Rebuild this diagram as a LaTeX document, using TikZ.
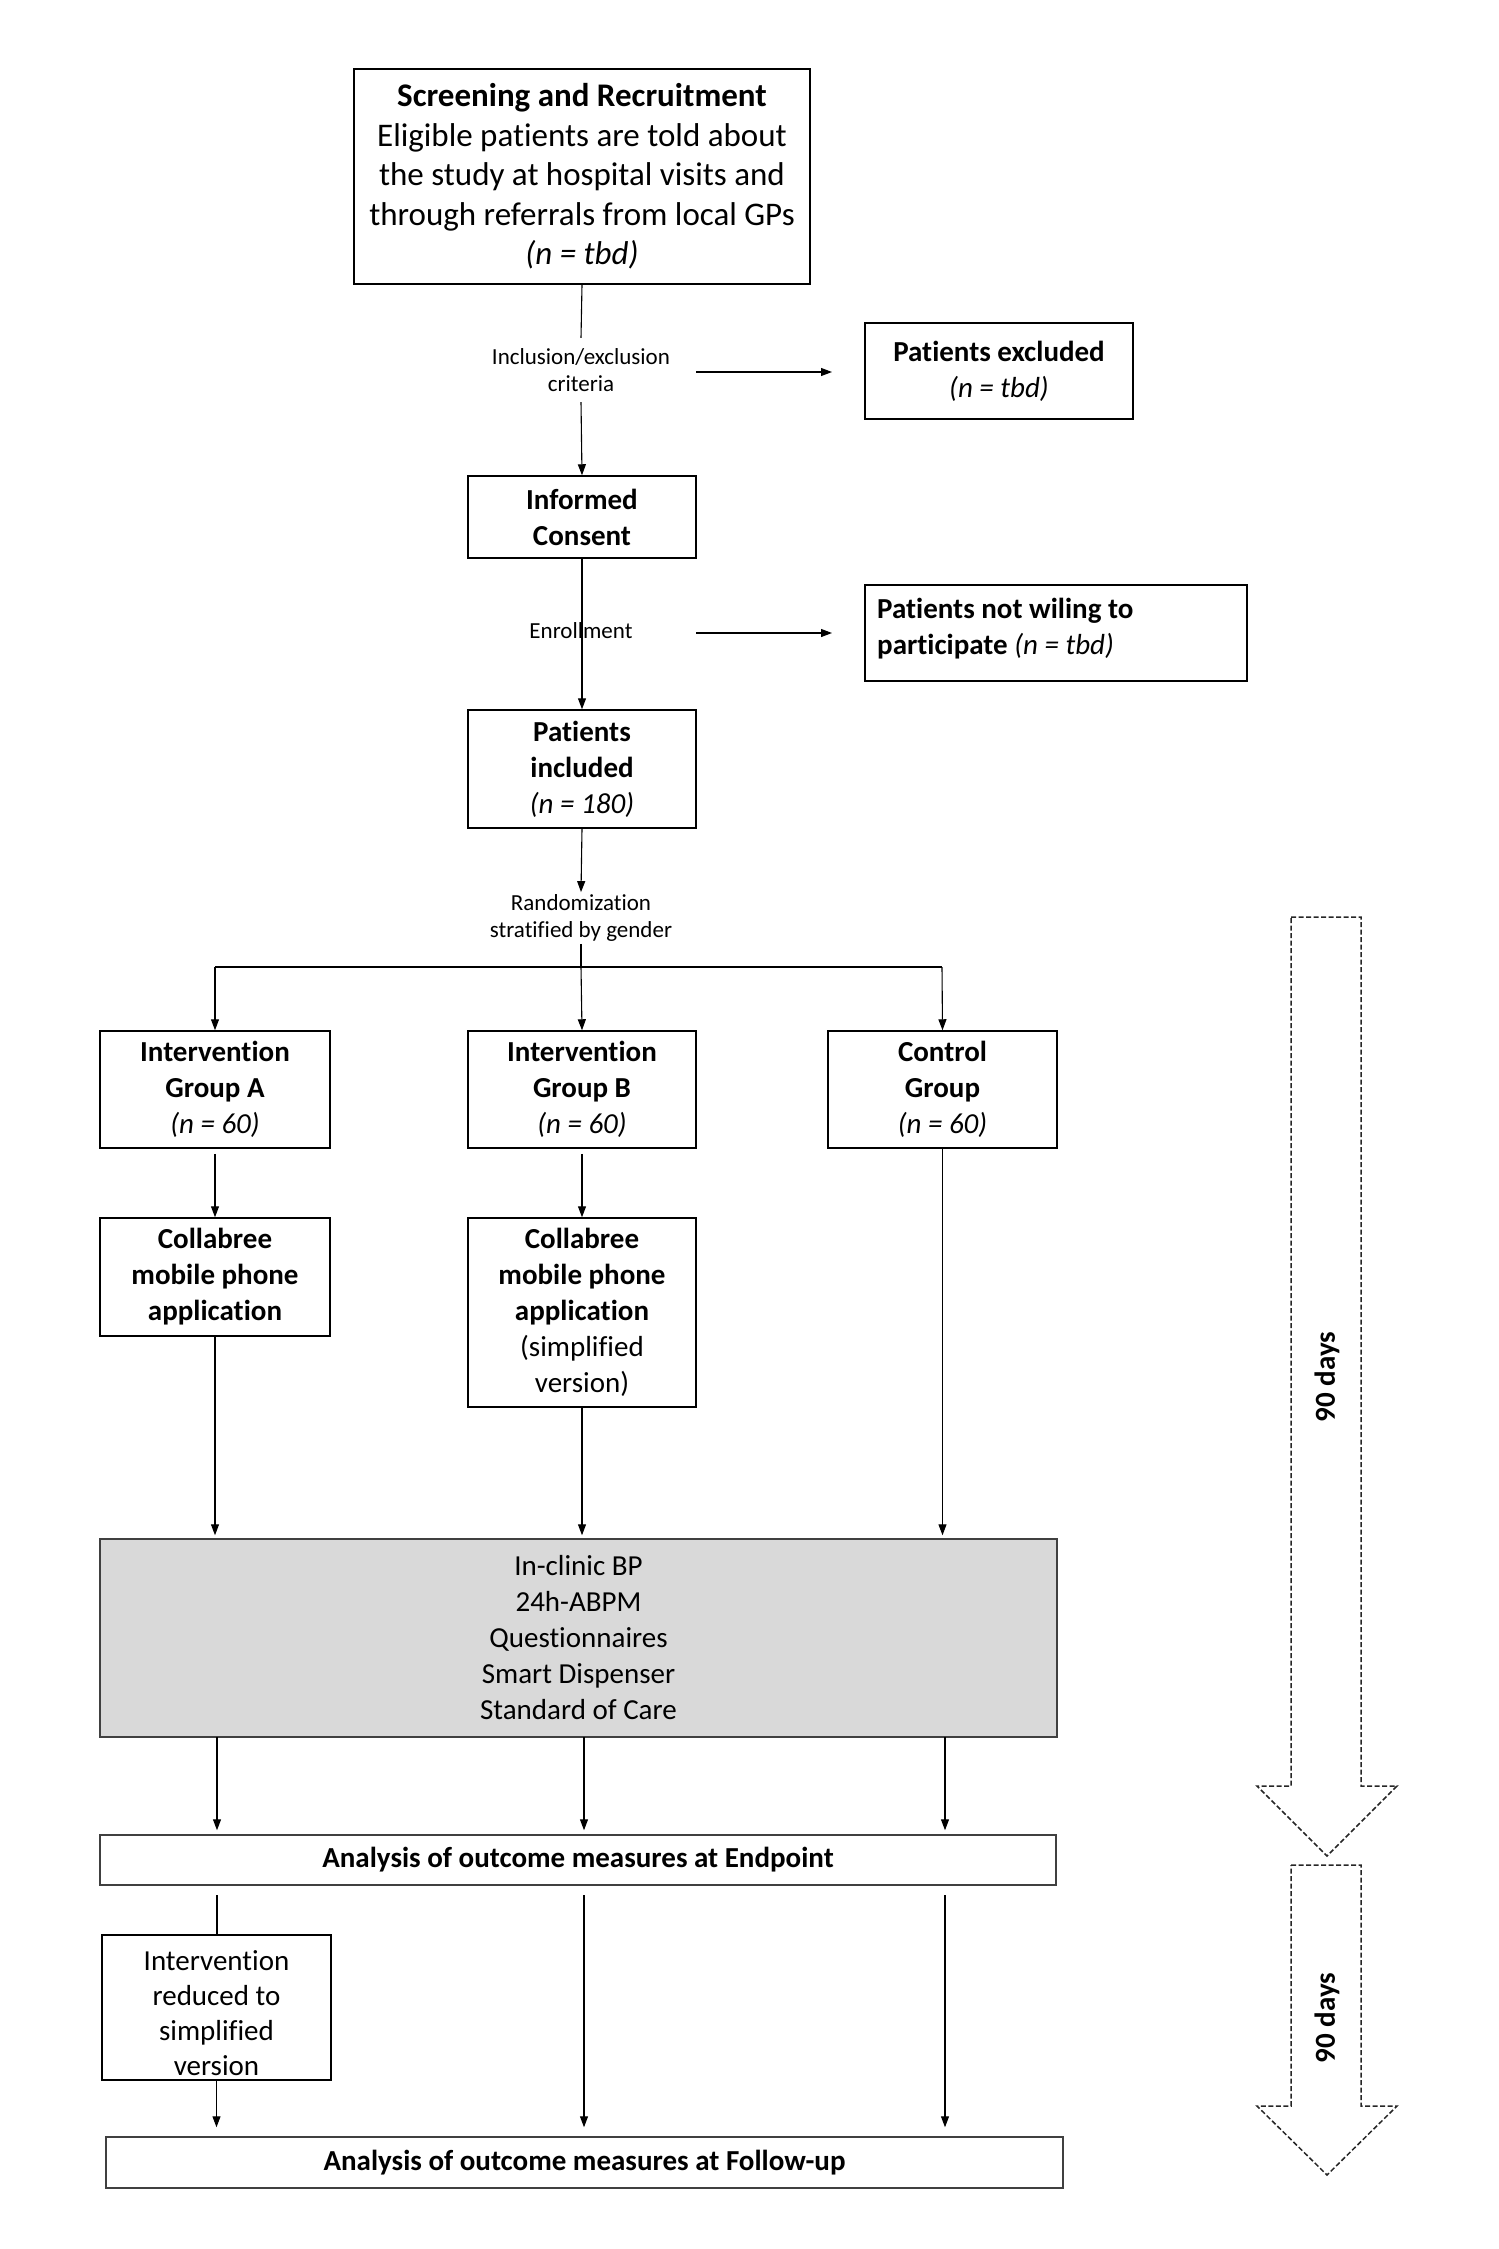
\documentclass[tikz,border=0pt]{standalone}
\usepackage{fontspec}
\setmainfont{Carlito}[RawFeature=-liga]
\usetikzlibrary{arrows.meta}
\definecolor{greyfill}{HTML}{D9D9D9}
\tikzset{
  box/.style={draw=black, line width=1.5pt, align=center, inner sep=0pt, font=\fontsize{29}{36}\selectfont},
  bigfont/.style={font=\fontsize{33}{39.5}\selectfont},
  lbl/.style={align=center, inner sep=0pt, font=\fontsize{23}{27.5}\selectfont},
  conn/.style={line width=1.1pt, draw=black},
  arr/.style={conn, -{Triangle[length=11pt,width=8pt]}},
  blockarrow/.style={line width=1.5pt, dash pattern=on 5pt off 2.5pt, draw=black!85},
}
\begin{document}
\begin{tikzpicture}[x=1pt,y=-1pt]
\useasboundingbox (0,0) rectangle (1499,2249);

% top boxes
\node[box, bigfont, minimum width=456pt, minimum height=215pt] (scr) at (582,176.5)
  {\textbf{Screening and Recruitment}\\Eligible patients are told about\\the study at hospital visits and\\through referrals from local GPs\\\textit{(n = tbd)}};
\node[lbl] (incl) at (581,370) {Inclusion/exclusion\\criteria};
\node[box, minimum width=268pt, minimum height=96pt] (excl) at (999,371)
  {\textbf{Patients excluded}\\\textit{(n = tbd)}};
\node[box, minimum width=228pt, minimum height=82pt] (ic) at (582,517)
  {\textbf{Informed}\\\textbf{Consent}};
\node[lbl] (enr) at (581,631) {Enrollment};
\node[box, minimum width=382pt, minimum height=96pt] (notw) at (1056,633) {};
\node[align=left, anchor=west, inner sep=0pt, font=\fontsize{29}{36}\selectfont] (notwtxt) at (877,629)
  {\textbf{Patients not wiling to}\\\textbf{participate} \textit{(n = tbd)}};
\node[box, minimum width=228pt, minimum height=118pt] (pinc) at (582,769)
  {\textbf{Patients}\\\textbf{included}\\\textit{(n = 180)}};
\node[lbl, inner ysep=2pt] (rand) at (581,918) {Randomization\\stratified by gender};

% groups
\node[box, minimum width=230pt, minimum height=117pt] (gA) at (215,1089.5)
  {\textbf{Intervention}\\\textbf{Group A}\\\textit{(n = 60)}};
\node[box, minimum width=228pt, minimum height=117pt] (gB) at (582,1089.5)
  {\textbf{Intervention}\\\textbf{Group B}\\\textit{(n = 60)}};
\node[box, minimum width=229pt, minimum height=117pt] (gC) at (942.5,1089.5)
  {\textbf{Control}\\\textbf{Group}\\\textit{(n = 60)}};
\node[box, minimum width=230pt, minimum height=118pt] (cA) at (215,1277)
  {\textbf{Collabree}\\\textbf{mobile phone}\\\textbf{application}};
\node[box, minimum width=228pt, minimum height=189pt] (cB) at (582,1312.5)
  {\textbf{Collabree}\\\textbf{mobile phone}\\\textbf{application}\\(simplified\\version)};

% measures
\node[box, draw=black!75, fill=greyfill, minimum width=957pt, minimum height=198pt] (grey) at (578.5,1638)
  {In-clinic BP\\24h-ABPM\\Questionnaires\\Smart Dispenser\\Standard of Care};
\node[box, draw=black!75, minimum width=956pt, minimum height=50pt] (endp) at (578,1860)
  {\textbf{Analysis of outcome measures at Endpoint}};
\node[box, minimum width=229pt, minimum height=145pt] (red) at (216.5,2007.5) {};
\node[align=center, inner sep=0pt, font=\fontsize{29}{35}\selectfont] (redtxt) at (216.5,2013)
  {Intervention\\reduced to\\simplified\\version};
\node[box, draw=black!75, minimum width=957pt, minimum height=51pt] (fu) at (584.5,2162.5)
  {\textbf{Analysis of outcome measures at Follow-up}};

% connectors top
\draw[conn] (scr.south) -- ([yshift=10pt]incl.north);
\draw[arr] ([yshift=-10pt]incl.south) -- (ic.north);
\coordinate (h1s) at (696,372);
\coordinate (h1e) at (832,372);
\draw[arr] (h1s) -- (h1e);
\draw[arr] (ic.south) -- (pinc.north);
\coordinate (h2s) at (696,633);
\coordinate (h2e) at (832,633);
\draw[arr] (h2s) -- (h2e);
\draw[arr] (pinc.south) -- (rand.north);
\coordinate (split) at (581,967);
\coordinate (splitL) at (215,967);
\coordinate (splitR) at (942,967);
\draw[conn] (rand.south) -- (split);
\draw[conn] (splitL) -- (splitR);
\draw[arr] (splitL) -- (gA.north);
\draw[arr] (split) -- (gB.north);
\draw[arr] (splitR) -- (gC.north);
\draw[arr, shorten <=5pt] (gA.south) -- (cA.north);
\draw[arr, shorten <=5pt] (gB.south) -- (cB.north);
\draw[arr, shorten >=3pt] (cA.south) -- (cA.south |- grey.north);
\draw[arr, shorten >=3pt] (cB.south) -- (cB.south |- grey.north);
\draw[arr, shorten >=3pt] (gC.south) -- (gC.south |- grey.north);

% grey to endpoint
\coordinate (g1) at (217,1737);
\coordinate (g2) at (584,1737);
\coordinate (g3) at (945,1737);
\draw[arr, shorten >=4pt] (g1) -- (g1 |- endp.north);
\draw[arr, shorten >=4pt] (g2) -- (g2 |- endp.north);
\draw[arr, shorten >=4pt] (g3) -- (g3 |- endp.north);

% endpoint to follow-up
\coordinate (e1) at (217,1895);
\coordinate (e2) at (584,1895);
\coordinate (e3) at (945,1895);
\draw[conn] (e1) -- (e1 |- red.north);
\draw[arr, shorten >=9pt] (red.south) -- (red.south |- fu.north);
\draw[arr, shorten >=9pt] (e2) -- (e2 |- fu.north);
\draw[arr, shorten >=9pt] (e3) -- (e3 |- fu.north);

% dashed block arrows
\draw[blockarrow] (1291,917) -- (1361,917) -- (1361,1786) -- (1397,1786) -- (1327,1856) -- (1257,1786) -- (1291,1786) -- cycle;
\draw[blockarrow] (1291,1865) -- (1361,1865) -- (1361,2106) -- (1397,2106) -- (1327,2175) -- (1257,2106) -- (1291,2106) -- cycle;
\node[rotate=90, inner sep=0pt, font=\fontsize{29}{35}\selectfont\bfseries] (days1) at (1327,1377) {90 days};
\node[rotate=90, inner sep=0pt, font=\fontsize{29}{35}\selectfont\bfseries] (days2) at (1327,2018) {90 days};
\end{tikzpicture}
\end{document}
